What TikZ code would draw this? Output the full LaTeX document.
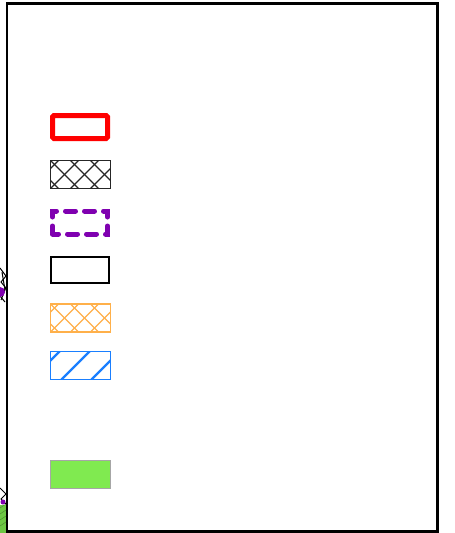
\documentclass[tikz,border=0pt]{standalone}
\usepackage{xcolor}
\usepackage{tikz}
\definecolor{legred}{HTML}{FF0000}
\definecolor{legpurple}{HTML}{7F00B0}
\definecolor{legorange}{HTML}{FFB04A}
\definecolor{legblue}{HTML}{1A7FFF}
\definecolor{leggreen}{HTML}{80EA50}

\begin{document}
\begin{tikzpicture}[
  x=1pt, y=-1pt,
  sw/.style={rectangle, inner sep=0pt, outer sep=0pt, minimum width=60pt, minimum height=28pt},
  swthick/.style={sw, minimum width=55pt, minimum height=23pt},
  xhatch/.style={path picture={
    \foreach \i in {-40,-20,...,80} {
      \draw[#1, line width=1.1pt] ([xshift=\i pt]path picture bounding box.south west) -- ++(40pt,40pt);
      \draw[#1, line width=1.1pt] ([xshift=\i pt]path picture bounding box.north west) -- ++(40pt,-40pt);
    }}},
  shatch/.style={path picture={
    \foreach \i in {-19,11,...,71} {
      \draw[#1, line width=2.2pt] ([xshift=\i pt]path picture bounding box.south west) -- ++(40pt,40pt);
    }}}
]
  \useasboundingbox (0,0) rectangle (455,533);
  \draw[line width=2.6pt] (7,3.5) rectangle (437.5,531.5);

  % legend swatches
  \node[swthick, draw=legred, line width=5pt, rounded corners=1.5pt] (s1) at (80,127) {};
  \node[sw, draw=black!85, line width=1.1pt, xhatch=black!85] (s2) at (80.5,174.5) {};
  \node[swthick, draw=legpurple, line width=5pt, dash pattern=on 10pt off 9pt, dash phase=4pt, line cap=round] (s3) at (80,222.5) {};
  \node[sw, minimum width=58pt, minimum height=26pt, draw=black, line width=2.8pt] (s4) at (80,270) {};
  \node[sw, draw=legorange, line width=1.1pt, xhatch=legorange] (s5) at (80.5,318) {};
  \node[sw, draw=legblue, line width=1.1pt, shatch=legblue] (s6) at (80.5,365.5) {};
  \node[sw, fill=leggreen, draw=black!35, line width=1.3pt] (s7) at (80.5,474.5) {};

  % clipped scraps at the left edge
  \begin{scope}
    \clip (0,0) rectangle (6,533);
    \draw[black, line width=1pt] (0,268) -- (6,276) -- (1,282) -- (6,288) -- (0,296) -- (5,302);
    \draw[black, line width=1pt] (2,272) -- (5,290) -- (1,300);
    \fill[legpurple] (0,292) circle (5);
    \draw[black, line width=1pt] (0,488) -- (6,494) -- (1,499) -- (6,504);
    \fill[legpurple] (3,502) circle (2.5);
    \fill[leggreen!85!black] (0,505) rectangle (6,533);
    \foreach \k in {508,514,...,530} {
      \draw[leggreen!60!black, line width=0.5pt] (0,\k) -- (6,\k-4);
    }
  \end{scope}
\end{tikzpicture}
\end{document}
